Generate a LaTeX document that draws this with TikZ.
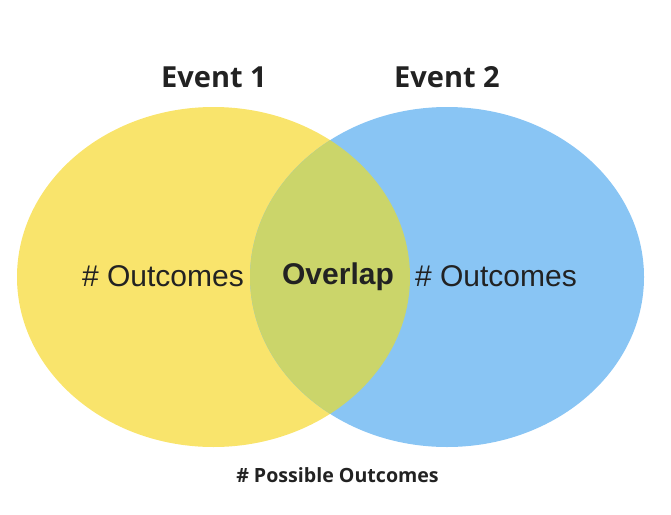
\documentclass[tikz,border=0pt]{standalone}
\usepackage{fontspec}
\setmainfont{Liberation Sans}
\newfontfamily\titlefont{Open Sans}
\definecolor{venyellow}{HTML}{F9E46C}
\definecolor{venblue}{HTML}{89C5F4}
\definecolor{venoverlap}{HTML}{CBD56A}
\definecolor{ventext}{HTML}{222222}
\begin{document}
\begin{tikzpicture}[x=1pt,y=-1pt,
  titlestyle/.style={font=\titlefont\bfseries\fontsize{29}{32}\selectfont,text=ventext,inner sep=0pt},
  labelstyle/.style={font=\fontsize{30}{33}\selectfont,text=ventext,inner sep=0pt},
  boldlabel/.style={font=\bfseries\fontsize{30}{33}\selectfont,text=ventext,inner sep=0pt},
  footstyle/.style={font=\titlefont\bfseries\fontsize{19.6}{22}\selectfont,text=ventext,inner sep=0pt}]
\useasboundingbox (0,0) rectangle (671,514);
\fill[venyellow] (213.5,277) ellipse [x radius=196.5, y radius=170];
\fill[venblue] (447,277) ellipse [x radius=197, y radius=170];
\begin{scope}
  \clip (213.5,277) ellipse [x radius=196.5, y radius=170];
  \fill[venoverlap] (447,277) ellipse [x radius=197, y radius=170];
\end{scope}
\node[titlestyle] (e1) at (214,77) {Event 1};
\node[titlestyle] (e2) at (447,77) {Event 2};
\node[labelstyle] (o1) at (163,276) {\# Outcomes};
\node[boldlabel] (ov) at (338,277) {Overlap};
\node[labelstyle] (o2) at (496,276) {\# Outcomes};
\node[footstyle] (po) at (337.5,475) {\# Possible Outcomes};
\end{tikzpicture}
\end{document}
